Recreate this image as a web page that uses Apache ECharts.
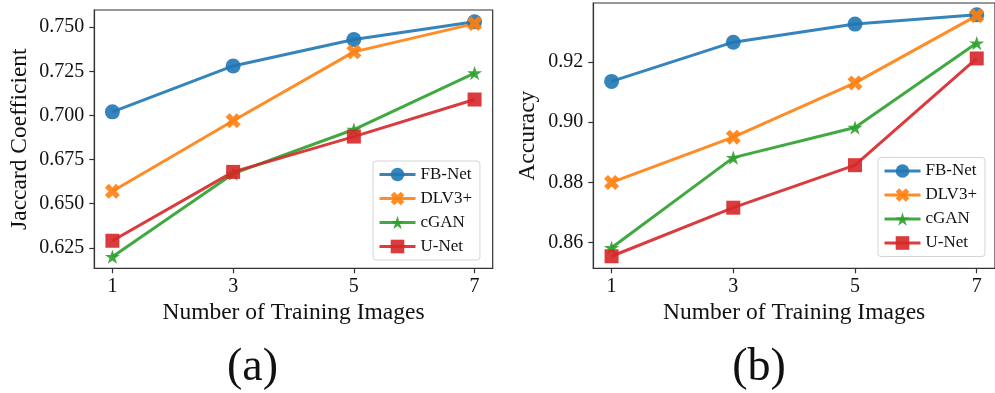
<!DOCTYPE html>
<html>
<head>
<meta charset="utf-8">
<script src="https://cdn.jsdelivr.net/npm/echarts@6/dist/echarts.min.js"></script>
<style>
html,body{margin:0;padding:0;background:#fff;}
#chart{width:995px;height:393px;}
</style>
</head>
<body>
<div id="chart"></div>
<script>
// ---- data ----
var trainingImages = [1, 3, 5, 7];
var seriesNames = ['FB-Net', 'DLV3+', 'cGAN', 'U-Net'];

var jaccardFBNet = [0.702, 0.728, 0.743, 0.753];
var jaccardDLV3 = [0.657, 0.697, 0.736, 0.752];
var jaccardCGAN = [0.620, 0.667, 0.692, 0.724];
var jaccardUNet = [0.629, 0.668, 0.688, 0.709];

var accuracyFBNet = [0.9135, 0.9265, 0.9325, 0.9356];
var accuracyDLV3 = [0.880, 0.895, 0.913, 0.9353];
var accuracyCGAN = [0.8583, 0.8882, 0.8982, 0.9262];
var accuracyUNet = [0.8555, 0.8716, 0.8857, 0.9211];

var xTicks = [1, 3, 5, 7];
var jaccardTicks = [0.625, 0.650, 0.675, 0.700, 0.725, 0.750];
var accuracyTicks = [0.86, 0.88, 0.90, 0.92];

// ---- styles ----
var colors = ['#1f77b4', '#ff7f0e', '#2ca02c', '#d62728'];
var xPath = 'path://M0,2.6 L2.6,0 L5,2.4 L7.4,0 L10,2.6 L7.6,5 L10,7.4 L7.4,10 L5,7.6 L2.6,10 L0,7.4 L2.4,5 Z';
var starPath = 'path://M100,0 L122.45,69.1 L195.1,69.1 L136.3,111.8 L158.8,180.9 L100,138.2 L41.2,180.9 L63.7,111.8 L4.9,69.1 L77.55,69.1 Z';
var symbols = ['circle', xPath, starPath, 'rect'];
var symbolSizes = [15, 15, 15, 14];
var FONT = '"Liberation Serif", "Times New Roman", serif';
var AX = '#333';

function pairs(arr) { return trainingImages.map(function (x, i) { return [x, arr[i]]; }); }

function makeSeries(dataArrs, gi) {
  return dataArrs.map(function (arr, k) {
    return {
      name: seriesNames[k],
      type: 'line',
      xAxisIndex: gi, yAxisIndex: gi,
      data: pairs(arr),
      symbol: symbols[k],
      symbolSize: symbolSizes[k],
      symbolKeepAspect: true,
      showAllSymbol: true,
      lineStyle: { width: 3, color: colors[k], opacity: 0.9 },
      itemStyle: { color: colors[k], opacity: 0.9 },
      emphasis: { disabled: true },
      animation: false
    };
  });
}

function xAxisCfg(gi) {
  return {
    type: 'value', gridIndex: gi, min: 0.7, max: 7.3,
    name: 'Number of Training Images', nameLocation: 'middle', nameGap: 32,
    nameTextStyle: { fontFamily: FONT, fontSize: 23.5, color: '#111' },
    axisLine: { show: true, lineStyle: { color: AX, width: 1.2 } },
    axisTick: { show: true, length: 5, inside: false, customValues: xTicks, lineStyle: { color: AX, width: 1.2 } },
    axisLabel: { customValues: xTicks, margin: 8, fontFamily: FONT, fontSize: 20, color: '#111' },
    splitLine: { show: false }
  };
}

function yAxisCfg(gi, name, min, max, ticks, dec, gap) {
  return {
    type: 'value', gridIndex: gi, min: min, max: max,
    name: name, nameLocation: 'middle', nameGap: gap, nameRotate: 90,
    nameTextStyle: { fontFamily: FONT, fontSize: 23.5, color: '#111' },
    axisLine: { show: true, lineStyle: { color: AX, width: 1.2 } },
    axisTick: { show: true, length: 5, inside: false, customValues: ticks, lineStyle: { color: AX, width: 1.2 } },
    axisLabel: { customValues: ticks, margin: 10, fontFamily: FONT, fontSize: 20, color: '#111',
      formatter: function (v) { return Number(v).toFixed(dec); } },
    splitLine: { show: false }
  };
}

function legendCfg(left, top) {
  return {
    orient: 'vertical', left: left, top: top,
    data: seriesNames,
    itemWidth: 36, itemHeight: 17, itemGap: 7,
    padding: [5, 8, 5, 5],
    backgroundColor: '#fff', borderColor: '#d5d5d5', borderWidth: 1, borderRadius: 3,
    lineStyle: { width: 3 },
    textStyle: { fontFamily: FONT, fontSize: 17, color: '#111', lineHeight: 17 },
    selectedMode: false
  };
}

var chart = echarts.init(document.getElementById('chart'), null, { renderer: 'canvas' });
chart.setOption({
  animation: false,
  backgroundColor: '#fff',
  grid: [
    { left: 94.3, top: 10, width: 398.4, height: 258.3, show: true, borderColor: AX, borderWidth: 1.2, backgroundColor: 'transparent', containLabel: false },
    { left: 593.3, top: 3, width: 407.2, height: 265.3, show: true, borderColor: AX, borderWidth: 1.2, backgroundColor: 'transparent', containLabel: false }
  ],
  xAxis: [xAxisCfg(0), xAxisCfg(1)],
  yAxis: [
    yAxisCfg(0, 'Jaccard Coefficient', 0.6134, 0.7597, jaccardTicks, 3, 62),
    yAxisCfg(1, 'Accuracy', 0.8515, 0.9395, accuracyTicks, 2, 53)
  ],
  legend: [legendCfg(373, 161), legendCfg(878, 157.5)],
  series: makeSeries([jaccardFBNet, jaccardDLV3, jaccardCGAN, jaccardUNet], 0)
    .concat(makeSeries([accuracyFBNet, accuracyDLV3, accuracyCGAN, accuracyUNet], 1)),
  graphic: [
    { type: 'text', x: 252.5, y: 368, style: { text: '(a)', font: '46px ' + FONT, fill: '#111', textAlign: 'center', textVerticalAlign: 'middle' } },
    { type: 'text', x: 759, y: 368, style: { text: '(b)', font: '46px ' + FONT, fill: '#111', textAlign: 'center', textVerticalAlign: 'middle' } }
  ]
});
</script>
</body>
</html>
